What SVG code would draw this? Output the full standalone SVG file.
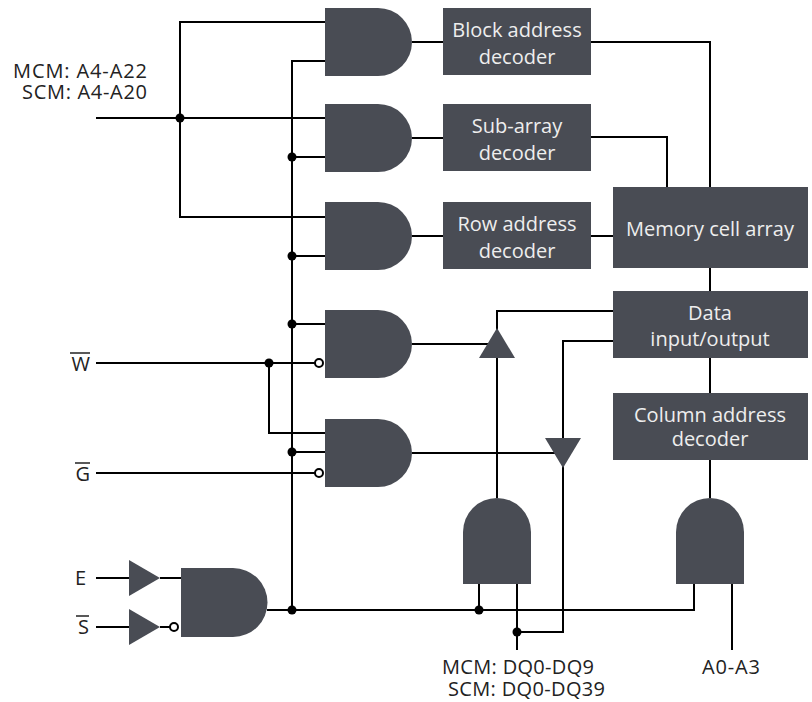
<svg xmlns="http://www.w3.org/2000/svg" width="812" height="702" viewBox="0 0 812 702">
<style>
.w{fill:none;stroke:#000;stroke-width:2}
.g{fill:#494c54}
.d{fill:#000}
.b{fill:#fff;stroke:#000;stroke-width:2}
.t{font-family:"Open Sans","Noto Sans",sans-serif;font-size:20px;fill:#222}
.bt{font-family:"Open Sans","Noto Sans",sans-serif;font-size:20px;fill:#eeeeee;text-anchor:middle}
</style>
<rect width="812" height="702" fill="#fff"/>
<g id="connectors">
<path class="w" d="M96,118 H325"/>
<path class="w" d="M325,22 H180 V217 H325"/>
<path class="w" d="M325,61 H292 V610"/>
<path class="w" d="M292,157 H325 M292,256 H325 M292,324 H325 M292,452 H325"/>
<path class="w" d="M96,363 H315 M269,363 V433 H325 M96,473 H315"/>
<path class="w" d="M267,610 H694 V584 M479,610 V584"/>
<path class="w" d="M412,42 H443 M412,138 H443 M412,236 H443 M412,344 H497 M412,453 H563"/>
<path class="w" d="M591,42 H710 V187 M591,137 H667 V187 M591,236 H613"/>
<path class="w" d="M710,268 V291 M710,358 V393 M710,460 V498"/>
<path class="w" d="M613,311 H497 V498 M613,341 H563 V632 H517 M517,584 V650 M732,584 V650"/>
<path class="w" d="M96,578 H129 M160,578 H181 M96,627 H129 M160,627 H170"/>
<circle class="d" cx="180" cy="118" r="4.5"/>
<circle class="d" cx="292" cy="157" r="4.5"/>
<circle class="d" cx="292" cy="256" r="4.5"/>
<circle class="d" cx="292" cy="324" r="4.5"/>
<circle class="d" cx="269" cy="363" r="4.5"/>
<circle class="d" cx="292" cy="452" r="4.5"/>
<circle class="d" cx="292" cy="610" r="4.5"/>
<circle class="d" cx="479" cy="610" r="4.5"/>
<circle class="d" cx="517" cy="632" r="4.5"/>
</g>
<g id="and1"><path class="g" d="M325,8 H378 A34,34 0 0 1 378,76 H325 Z"/></g>
<g id="and2"><path class="g" d="M325,104 H378 A34,34 0 0 1 378,172 H325 Z"/></g>
<g id="and3"><path class="g" d="M325,202 H378 A34,34 0 0 1 378,270 H325 Z"/></g>
<g id="and4"><path class="g" d="M325,310 H378 A34,34 0 0 1 378,378 H325 Z"/><circle class="b" cx="319" cy="363" r="4"/></g>
<g id="and5"><path class="g" d="M325,419 H378 A34,34 0 0 1 378,487 H325 Z"/><circle class="b" cx="319" cy="473" r="4"/></g>
<g id="and6"><path class="g" d="M181,568 H233 A34.5,34.5 0 0 1 233,637 H181 Z"/><circle class="b" cx="174" cy="627" r="4"/></g>
<g id="bufE"><path class="g" d="M129,560 L160,578 L129,596 Z"/></g>
<g id="bufS"><path class="g" d="M129,609 L160,627 L129,645 Z"/></g>
<g id="bufUp"><path class="g" d="M497,328 L515,358 L479,358 Z"/></g>
<g id="bufDown"><path class="g" d="M545,438 L581,438 L563,468 Z"/></g>
<g id="and7"><path class="g" d="M463,584 V532 A34,34 0 0 1 531,532 V584 Z"/></g>
<g id="and8"><path class="g" d="M676,584 V532 A34,34 0 0 1 744,532 V584 Z"/></g>
<g id="block"><rect class="g" x="443" y="8" width="148" height="67"/><text class="bt" x="517" y="37">Block address</text><text class="bt" x="517" y="64">decoder</text></g>
<g id="subarray"><rect class="g" x="443" y="104" width="148" height="67"/><text class="bt" x="517" y="133">Sub-array</text><text class="bt" x="517" y="160">decoder</text></g>
<g id="row"><rect class="g" x="443" y="202" width="148" height="67"/><text class="bt" x="517" y="231">Row address</text><text class="bt" x="517" y="258">decoder</text></g>
<g id="memory"><rect class="g" x="613" y="187" width="195" height="81"/><text class="bt" x="710" y="236">Memory cell array</text></g>
<g id="dataio"><rect class="g" x="613" y="291" width="195" height="67"/><text class="bt" x="710" y="320">Data</text><text class="bt" x="710" y="346">input/output</text></g>
<g id="column"><rect class="g" x="613" y="393" width="195" height="67"/><text class="bt" x="710" y="422">Column address</text><text class="bt" x="710" y="446">decoder</text></g>
<g id="labels">
<text class="t" x="13" y="78" textLength="134" lengthAdjust="spacing">MCM: A4-A22</text>
<text class="t" x="22" y="99" textLength="125" lengthAdjust="spacing">SCM: A4-A20</text>
<text class="t" x="90" y="371" text-anchor="end">W</text>
<line x1="70" y1="353" x2="90" y2="353" stroke="#222" stroke-width="1.5"/>
<text class="t" x="90" y="481" text-anchor="end">G</text>
<line x1="75" y1="463" x2="90" y2="463" stroke="#222" stroke-width="1.5"/>
<text class="t" x="86" y="585" text-anchor="end">E</text>
<text class="t" x="89" y="634" text-anchor="end">S</text>
<line x1="76" y1="616" x2="89" y2="616" stroke="#222" stroke-width="1.5"/>
<text class="t" x="442" y="674" textLength="152" lengthAdjust="spacing">MCM: DQ0-DQ9</text>
<text class="t" x="448" y="696" textLength="157" lengthAdjust="spacing">SCM: DQ0-DQ39</text>
<text class="t" x="702" y="674" textLength="58" lengthAdjust="spacing">A0-A3</text>
</g>
</svg>
